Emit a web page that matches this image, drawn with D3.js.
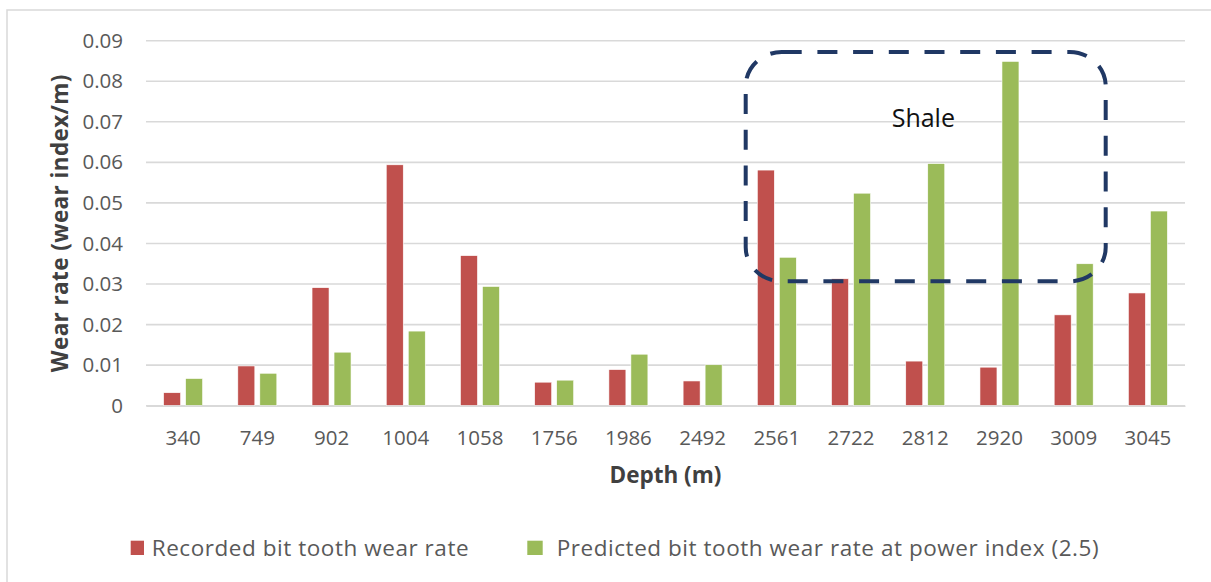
<!DOCTYPE html>
<html>
<head>
<meta charset="utf-8">
<script src="https://cdn.jsdelivr.net/npm/d3@7"></script>
<style>
  body { margin: 0; background: #fff; }
  text { font-family: "Open Sans", "Noto Sans", sans-serif; }
</style>
</head>
<body>
<svg id="chart"></svg>
<script>
// data
const depths = ['340', '749', '902', '1004', '1058', '1756', '1986', '2492', '2561', '2722', '2812', '2920', '3009', '3045'];
const recorded = [0.0032, 0.0098, 0.0291, 0.0594, 0.0370, 0.0058, 0.0089, 0.0061, 0.0581, 0.0313, 0.0110, 0.0095, 0.0224, 0.0278];
const predicted = [0.0067, 0.0080, 0.0132, 0.0184, 0.0294, 0.0063, 0.0127, 0.0101, 0.0366, 0.0524, 0.0597, 0.0849, 0.0350, 0.0480];
const seriesNames = ['Recorded bit tooth wear rate', 'Predicted bit tooth wear rate at power index (2.5)'];
const yTicks = [0, 0.01, 0.02, 0.03, 0.04, 0.05, 0.06, 0.07, 0.08, 0.09];

const colors = ['#C0504D', '#9BBB59'];
const FONT = '"Open Sans", "Noto Sans", sans-serif';
const W = 1211, H = 582;
const plotL = 146, plotR = 1185, plotT = 40.7, plotB = 405.7;

const svg = d3.select('#chart').attr('width', W).attr('height', H);

// chart area border
svg.append('rect')
  .attr('x', 7).attr('y', 10).attr('width', W).attr('height', H)
  .attr('fill', '#fff').attr('stroke', '#D9D9D9').attr('stroke-width', 1.5);

const x = d3.scaleBand().domain(depths).range([plotL, plotR]);
const bw = x.bandwidth();
const x1 = d3.scaleBand().domain([0, 1])
  .range([bw / 2 - 19.5, bw / 2 + 19.5]).paddingInner(5 / 22);
const y = d3.scaleLinear().domain([0, 0.09]).range([plotB, plotT]);

// gridlines
svg.append('g').selectAll('line')
  .data(yTicks)
  .enter().append('line')
  .attr('x1', plotL).attr('x2', plotR)
  .attr('y1', d => y(d)).attr('y2', d => y(d))
  .attr('stroke', '#D9D9D9').attr('stroke-width', 1.6);

// y axis labels
const yAxis = svg.append('g')
  .attr('transform', `translate(${plotL},0)`)
  .call(d3.axisLeft(y).tickValues(yTicks).tickSize(0).tickPadding(23)
    .tickFormat(d => d === 0 ? '0' : d3.format('.2f')(d)));
yAxis.select('.domain').remove();
yAxis.selectAll('text')
  .attr('font-size', 20.5).attr('fill', '#595959')
  .style('font-family', FONT);

// bars
const rows = depths.map((d, i) => ({ depth: d, values: [recorded[i], predicted[i]] }));
const groups = svg.append('g').selectAll('g')
  .data(rows)
  .enter().append('g')
  .attr('transform', d => `translate(${x(d.depth)},0)`);

groups.selectAll('rect')
  .data(d => d.values.map((v, k) => ({ k, v })))
  .enter().append('rect')
  .attr('x', d => x1(d.k))
  .attr('width', x1.bandwidth())
  .attr('y', d => y(d.v))
  .attr('height', d => plotB - y(d.v))
  .attr('fill', d => colors[d.k])
  .attr('stroke', '#fff').attr('stroke-width', 0.6);

// x axis
const xAxis = svg.append('g')
  .attr('transform', `translate(0,${plotB})`)
  .call(d3.axisBottom(x).tickSize(0));
xAxis.select('.domain').attr('stroke', '#D9D9D9').attr('stroke-width', 1.6);
xAxis.selectAll('text')
  .attr('y', 39.3).attr('dy', 0)
  .attr('font-size', 20.5).attr('fill', '#595959')
  .style('font-family', FONT);

// axis titles
svg.append('text')
  .attr('x', (plotL + plotR) / 2).attr('y', 483.3)
  .attr('text-anchor', 'middle')
  .attr('font-size', 22.5).attr('font-weight', 'bold').attr('fill', '#404040')
  .text('Depth (m)');

svg.append('text')
  .attr('transform', `translate(67.5,${(plotT + plotB) / 2}) rotate(-90)`)
  .attr('text-anchor', 'middle')
  .attr('font-size', 22.5).attr('font-weight', 'bold').attr('fill', '#404040')
  .attr('letter-spacing', 0.4)
  .text('Wear rate (wear index/m)');

// shale annotation box
svg.append('rect')
  .attr('x', 745.7).attr('y', 52)
  .attr('width', 1105.7 - 745.7).attr('height', 281.3 - 52)
  .attr('rx', 36).attr('ry', 34)
  .attr('fill', 'none').attr('stroke', '#203864')
  .attr('stroke-width', 4).attr('stroke-dasharray', '20,15.7');

svg.append('text')
  .attr('x', 891.7).attr('y', 127.3)
  .attr('font-size', 25).attr('fill', '#111')
  .text('Shale');

// legend
const legendX = [130.7, 527.3];
const legend = svg.append('g').selectAll('g')
  .data(seriesNames)
  .enter().append('g')
  .attr('transform', (d, i) => `translate(${legendX[i]},540.7)`);
legend.append('rect')
  .attr('width', (d, i) => i === 0 ? 13.3 : 15.4).attr('height', 14.3)
  .attr('fill', (d, i) => colors[i]);
legend.append('text')
  .attr('x', (d, i) => i === 0 ? 21 : 29.4).attr('y', 14.8)
  .attr('font-size', 22.5).attr('letter-spacing', 0.55).attr('fill', '#595959')
  .text(d => d);
</script>
</body>
</html>
